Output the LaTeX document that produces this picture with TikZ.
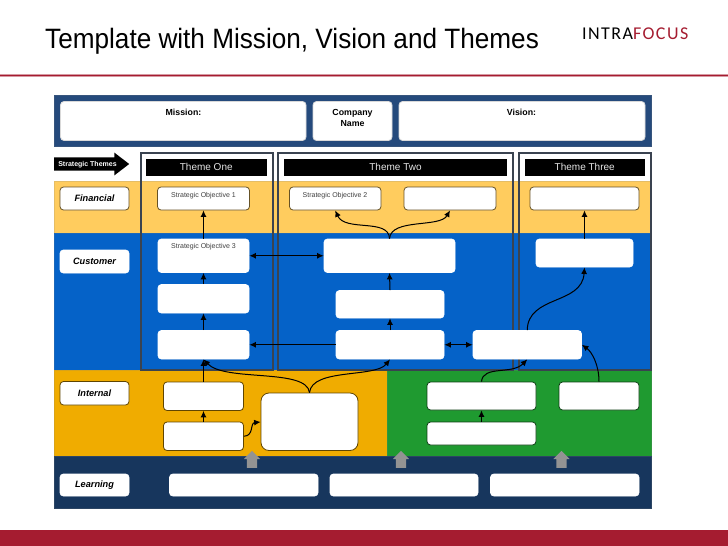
\documentclass[tikz,border=0pt]{standalone}
\usepackage{fontspec}
\setmainfont{Liberation Sans}
\newfontfamily\logofont[LetterSpace=8]{Carlito}
\usetikzlibrary{arrows.meta,shapes.arrows,calc}
\definecolor{navyband}{HTML}{254A7C}
\definecolor{gold}{HTML}{FFCC5E}
\definecolor{bluec}{HTML}{0562C8}
\definecolor{orangei}{HTML}{F0AC00}
\definecolor{greeni}{HTML}{1F9A30}
\definecolor{learnb}{HTML}{17365D}
\definecolor{redb}{HTML}{A51C30}
\definecolor{frameg}{HTML}{3A4350}
\tikzset{
 x=1pt,y=-1pt,
 band/.style={draw=#1!80!gray,line width=.6pt,fill=#1},
 boxw/.style={draw=#1,line width=.8pt,fill=white,rounded corners=3.5pt,inner sep=0pt},
 lab/.style={font=\fontsize{9.2}{10}\selectfont\bfseries\itshape,text=black},
 smalltxt/.style={font=\fontsize{7}{8}\selectfont,text=black!75},
 headtxt/.style={font=\fontsize{8.8}{11}\selectfont\bfseries,align=center,text=black},
 themebar/.style={fill=black,draw=none,inner sep=0pt,text=white!90!black,font=\fontsize{10}{11}\selectfont},
 thframe/.style={draw=frameg,line width=2pt},
 con/.style={draw=black,line width=1pt,-{Latex[length=6.5pt,width=6pt]}},
 dcon/.style={draw=black,line width=1pt,{Latex[length=6.5pt,width=6pt]}-{Latex[length=6.5pt,width=6pt]}},
 upgray/.style={single arrow,shape border rotate=90,fill=gray!85,draw=none,single arrow head extend=3pt,single arrow tip angle=90,inner xsep=5pt,inner ysep=0pt,minimum height=17pt,anchor=tail}
}
% options, x1,y1,x2,y2, style, name
\newcommand{\bx}[7][]{\path (#2,#3) ++({(#4-#2)/2},{(#5-#3)/2}) node[#6,minimum width={(#4-#2)*1pt},minimum height={(#5-#3)*1pt},#1] (#7) {};}
\newcommand{\bxt}[8][]{\path (#2,#3) ++({(#4-#2)/2},{(#5-#3)/2}) node[#6,minimum width={(#4-#2)*1pt},minimum height={(#5-#3)*1pt},#1] (#7) {#8};}
\begin{document}
\begin{tikzpicture}
\useasboundingbox (0,0) rectangle (728,546);
\fill[white] (0,0) rectangle (728,546);
% header
\node[anchor=base west,inner sep=0pt,font=\fontsize{28}{30}\selectfont,xscale=.934] (title) at (45,48) {Template with Mission, Vision and Themes};
\node[anchor=base west,inner sep=0pt,font=\logofont\fontsize{18}{20}\selectfont] (logo) at (582,39.5) {INTRA\textcolor{redb}{FOCUS}};
\fill[redb!45] (0,73.8) rectangle (728,76.5);
\fill[redb] (0,74.5) rectangle (728,75.8);
\fill[redb] (0,530) rectangle (728,546);
% bands
\path[band=navyband] (54,95) rectangle (651,146.5);
\path[band=gold] (54,181.5) rectangle (651,233);
\path[band=bluec] (54,233) rectangle (651,370);
\path[band=orangei] (54,370) rectangle (387,456);
\path[band=greeni] (387,370) rectangle (651,456);
\path[band=learnb] (54,456) rectangle (651,508);
% theme frames
\draw[thframe] (140.5,152.5) rectangle (272.5,370);
\draw[thframe] (277.5,152.5) rectangle (513,370);
\draw[thframe] (518.5,152.5) rectangle (651,370);
% mission row
\bx{60.5}{101.5}{306}{140.5}{boxw=white!70!gray}{mission}
\bx{313}{101.5}{392}{140.5}{boxw=white!70!gray}{company}
\bx{399}{101.5}{645}{140.5}{boxw=white!70!gray}{vision}
\node[headtxt] (missiont) at (183.5,112) {Mission:};
\node[headtxt] (companyt) at (352.5,117.5) {Company\\Name};
\node[headtxt] (visiont) at (521.5,112) {Vision:};
% strategic themes arrow
\node[single arrow,anchor=tail,fill=black,draw=none,inner xsep=0pt,inner ysep=6.5pt,minimum height=75pt,single arrow head extend=4.7pt,single arrow head indent=0pt,single arrow tip angle=75] (stratarrow) at (54,164) {};
\node[font=\fontsize{7}{8}\selectfont\bfseries,text=white,inner sep=0pt] (stratt) at (87.5,164.5) {Strategic Themes};
% theme bars
\bxt{146}{158.5}{266.5}{175.5}{themebar}{themeone}{Theme One}
\bxt{284}{158.5}{507}{175.5}{themebar}{themetwo}{Theme Two}
\bxt{524.5}{158.5}{645}{175.5}{themebar}{themethree}{Theme Three}
% row labels
\bxt{60}{187}{129}{210}{boxw=black!60!gold,lab}{lfin}{Financial}
\bxt{60}{250}{129}{273}{boxw=white,lab}{lcus}{Customer}
\bxt{60}{381.5}{129}{405}{boxw=black!60!orangei,lab}{lint}{Internal}
\bxt{60}{474}{129}{496}{boxw=white,lab}{llea}{Learning}
% financial
\bx{157.5}{187}{249.5}{210}{boxw=black!60!gold}{so1}
\bx{289.5}{187}{381}{210}{boxw=black!60!gold}{so2}
\bx{404}{187}{496}{210}{boxw=black!60!gold}{f3}
\bx{530}{187}{639}{210}{boxw=black!60!gold}{f4}
\node[smalltxt] (so1t) at (203.5,195.5) {Strategic Objective 1};
\node[smalltxt] (so2t) at (335,195.5) {Strategic Objective 2};
% customer
\bx{158}{239}{249}{272.5}{boxw=white}{so3}
\bx{158}{284.5}{249}{313}{boxw=white}{c2}
\bx{158}{330.5}{249}{359}{boxw=white}{c3}
\bx{324}{239}{455}{272.5}{boxw=white}{c4}
\bx{336}{290.5}{444}{318}{boxw=white}{c5}
\bx{336}{330.5}{444}{359}{boxw=white}{c6}
\bx{473}{330.5}{581.5}{359}{boxw=white}{c7}
\bx{536}{239}{633}{267}{boxw=white}{c8}
\node[smalltxt] (so3t) at (203.5,247) {Strategic Objective 3};
% internal
\bx{163.5}{382}{243.5}{410.5}{boxw=black!60!orangei}{i1}
\bx{163.5}{422}{243.5}{450.5}{boxw=black!60!orangei}{i2}
\bx[rounded corners=8pt]{261}{393}{358}{450.5}{boxw=black!60!orangei}{i3}
\bx{427}{382}{536}{410}{boxw=black!60!greeni}{g1}
\bx{427}{422}{536}{445}{boxw=black!60!greeni}{g2}
\bx{559}{382}{639}{410}{boxw=black!60!greeni}{g3}
% learning
\bx{169.5}{474}{318}{496}{boxw=white}{l1}
\bx{330}{474}{478}{496}{boxw=white}{l2}
\bx{490.5}{474}{639}{496}{boxw=white}{l3}
% gray arrows
\node[upgray] (u1) at (252,468) {};
\node[upgray] (u2) at (401,468) {};
\node[upgray] (u3) at (561.5,468) {};
% connectors
\draw[con] (so3.north) -- (so1.south);
\draw[con] (c2.north) -- (so3.south);
\draw[con] (c3.north) -- (c2.south);
\draw[con] (i1.north) -- (c3.south);
\draw[con] (i2.north) -- (i1.south);
\draw[con] (i2.east) .. controls (254,436) and (250,423) .. (i3.west |- 0,422);
\draw[con] (i3.north) .. controls (307,368) and (225,382) .. (c3.south);
\draw[con] (i3.north) .. controls (312,368) and (375,378) .. (c6.south);
\draw[con] (c6.north) -- (c5.south);
\draw[con] (c5.north) -- (c4.south);
\draw[con] (c4.north) .. controls (389,218) and (345,232) .. (so2.south);
\draw[con] (c4.north) .. controls (391,218) and (440,228) .. (f3.south);
\draw[dcon] (so3.east) -- (c4.west);
\draw[con] (c6.west) -- (c3.east);
\draw[dcon] (c6.east) -- (c7.west);
\draw[con] (c7.north) .. controls (528,295) and (582,305) .. (c8.south);
\draw[con] (c8.north) -- (f4.south);
\draw[con] (g2.north) -- (g1.south);
\draw[con] (g1.north) .. controls (483,365) and (512,375) .. (c7.south);
\draw[con] (g3.north) .. controls (599,365) and (592,352) .. (c7.east);
\end{tikzpicture}
\end{document}
